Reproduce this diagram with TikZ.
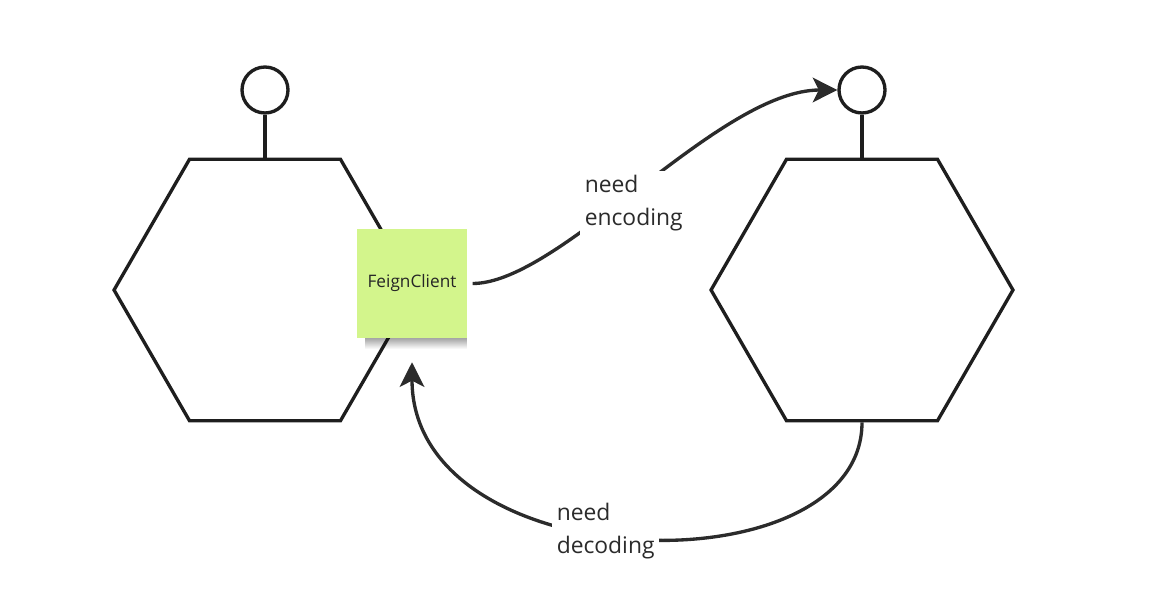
\documentclass[tikz,border=0pt]{standalone}
\usepackage{fontspec}
\setmainfont{Open Sans}
\usetikzlibrary{shapes.geometric, arrows.meta, fadings}
\definecolor{inkDark}{HTML}{1E1E1E}
\definecolor{arrowGray}{HTML}{2B2B2B}
\definecolor{stickyGreen}{HTML}{D3F58C}
\tikzset{
    % Services
    serviceHex/.style={regular polygon, regular polygon sides=6, draw=inkDark, line width=1.9pt, minimum size=6.04cm, inner sep=0pt},
    portDot/.style={circle, draw=inkDark, line width=1.9pt, minimum size=0.92cm, inner sep=0pt},
    portStem/.style={draw=inkDark, line width=1.9pt},
    % Sticky note
    stickyNote/.style={rectangle, fill=stickyGreen, minimum width=2.2cm, minimum height=2.18cm, inner sep=0pt,
        font=\fontsize{9.8}{11}\selectfont, text=black!85},
    noteShadow/.style={fill=black, opacity=0.35, path fading=south},
    % Connectors
    flowArrow/.style={-{Stealth[length=14pt, width=14pt, inset=3.5pt]}, line width=1.9pt, draw=arrowGray},
    flowLabel/.style={fill=white, inner sep=2.5pt, align=left, anchor=west, text=arrowGray, font=\fontsize{13}{18.7}\selectfont}
}
\begin{document}
\begin{tikzpicture}[x=0.02cm, y=-0.02cm]
    \useasboundingbox (0,0) rectangle (1166,612);
    % two services with their ports
    \node[serviceHex] (hexA) at (265,290) {};
    \node[serviceHex] (hexB) at (862,290) {};
    \node[portDot] (dotA) at (265,90) {};
    \node[portDot] (dotB) at (862,90) {};
    \draw[portStem] (hexA.north) -- (dotA.south);
    \draw[portStem] (hexB.north) -- (dotB.south);
    % client note
    \node[stickyNote] (note) at (412,283.5) {FeignClient};
    \fill[noteShadow] ([xshift=5pt]note.south west) rectangle ([yshift=-6pt]note.south east);
    % calls
    \draw[flowArrow, shorten <=3pt] (note.east) .. controls +(93,0) and +(-119,0) .. (dotB.west);
    \draw[flowArrow, shorten >=13.6pt] (hexB.south) .. controls +(0,169) and +(0,242) .. (note.south);
    \node[flowLabel] (encLabel) at (580,203) {need\\encoding};
    \node[flowLabel] (decLabel) at (552,531) {need\\decoding};
\end{tikzpicture}
\end{document}
